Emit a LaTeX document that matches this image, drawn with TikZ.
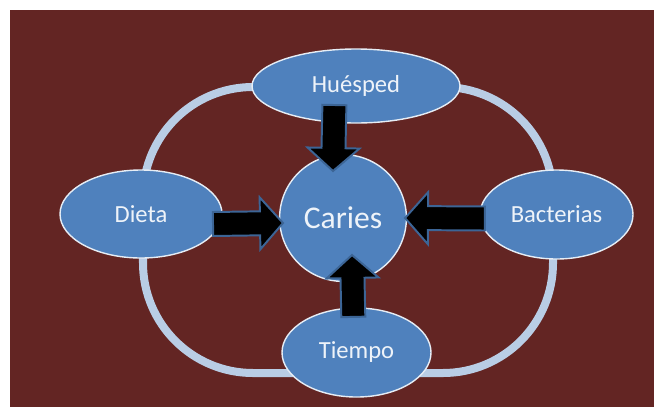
\documentclass[tikz,border=0pt]{standalone}
\usepackage{fontspec}
\setmainfont{Carlito}
\usetikzlibrary{shapes.geometric,calc}
\definecolor{bgcol}{HTML}{632523}
\definecolor{nodecol}{HTML}{4F81BD}
\definecolor{ringcol}{HTML}{B9CDE5}
\definecolor{rimcol}{HTML}{E6EDF5}
\definecolor{edgecol}{HTML}{3C6596}
\definecolor{txtcol}{HTML}{EEF3F9}
% block arrow from tail #1 to tip #2
\newcommand{\fatarrow}[2]{%
  \draw[blk] ($(#1)!0.3cm!90:(#2)$)
    -- ($(#2)!0.575cm!(#1)!0.3cm!-90:(#1)$)
    -- ($(#2)!0.575cm!(#1)!0.65cm!-90:(#1)$)
    -- (#2)
    -- ($(#2)!0.575cm!(#1)!0.65cm!90:(#1)$)
    -- ($(#2)!0.575cm!(#1)!0.3cm!90:(#1)$)
    -- ($(#1)!0.3cm!-90:(#2)$) -- cycle;}

\begin{document}
\begin{tikzpicture}[
  line join=miter,
  ell/.style={ellipse, draw=rimcol, line width=1pt, fill=nodecol, inner sep=0pt,
              text=txtcol, font=\fontsize{17.5}{20}\selectfont},
  blk/.style={fill=black, draw=edgecol, line width=1.4pt}]

% ================================================ frame and ring
\useasboundingbox (0,0) rectangle (16.35,10.175);
\fill[bgcol] (0.25,0) rectangle (16.35,9.925);
\draw[ringcol, line width=5.7pt, rounded corners=2.75cm] (3.575,0.85) rectangle (13.825,8.0);

% ================================================ the five factors
\node[ell, circle, minimum size=3.17cm, font=\fontsize{22.5}{26}\selectfont]
  (car) at (8.575,4.725) {Caries};
\node[ell, minimum width=5.2cm, minimum height=1.85cm] (hue) at (8.9,8.025) {Huésped};
\node[ell, minimum width=4.05cm, minimum height=2.2cm] (die) at (3.525,4.825) {Dieta};
\node[ell, minimum width=3.825cm, minimum height=2.225cm] (bac) at (13.9125,4.8125) {Bacterias};
\node[ell, minimum width=3.725cm, minimum height=2.225cm] (tie) at (8.9125,1.3625) {Tiempo};

% ================================================ arrows into the circle
\coordinate (hueT) at ($(hue.center)+(-0.54,-0.475)$);
\coordinate (carN) at ($(car.center)+(-0.25,1.175)$);
\coordinate (dieT) at ($(die.center)+(1.8,-0.25)$);
\coordinate (carW) at ($(car.center)+(-1.5,-0.125)$);
\coordinate (bacT) at ($(bac.center)+(-1.79,-0.1)$);
\coordinate (carE) at ($(car.center)+(1.55,0)$);
\coordinate (tieT) at ($(tie.center)+(-0.08,0.89)$);
\coordinate (carS) at ($(car.center)+(0.225,-0.925)$);
\fatarrow{hueT}{carN}
\fatarrow{dieT}{carW}
\fatarrow{bacT}{carE}
\fatarrow{tieT}{carS}

\end{tikzpicture}
\end{document}
